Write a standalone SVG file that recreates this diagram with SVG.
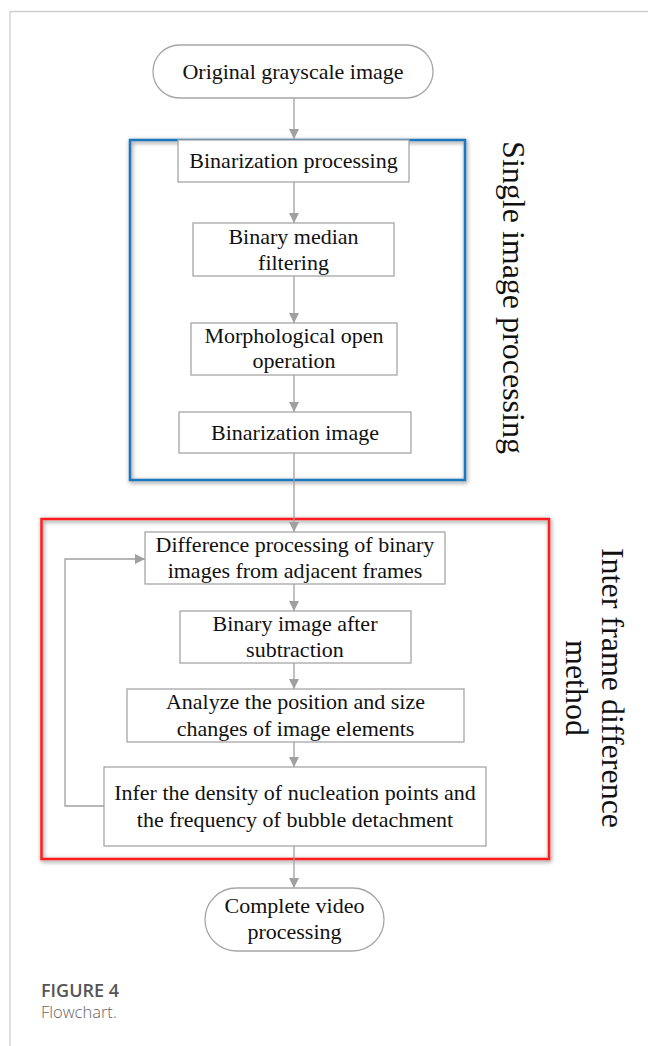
<svg xmlns="http://www.w3.org/2000/svg" width="648" height="1046" viewBox="0 0 648 1046">
<style>
.box{fill:#fff;stroke:#a6a6a6;stroke-width:1.3}
.t{font-family:"Liberation Serif","Times New Roman",serif;font-size:22px;fill:#111;text-anchor:middle}
.vt{font-family:"Liberation Serif","Times New Roman",serif;font-size:32px;fill:#111;text-anchor:middle}
.c{fill:none;stroke:#a0a0a0;stroke-width:1.3}
.frame{fill:none;stroke:#cfcfcf;stroke-width:1.3}
</style>
<defs>
<marker id="ah" viewBox="0 0 10 10" refX="10" refY="5" markerWidth="10" markerHeight="10" markerUnits="userSpaceOnUse" orient="auto">
<path d="M0,0 L10,5 L0,10 Z" fill="#a0a0a0"/>
</marker>
<filter id="sh" x="-10%" y="-10%" width="120%" height="120%">
<feDropShadow dx="1" dy="1.5" stdDeviation="2" flood-color="#444" flood-opacity="0.7"/>
</filter>
</defs>
<rect width="648" height="1046" fill="#fff"/>
<path class="frame" d="M10,1046 V11.5 H648"/>

<g id="groups">
<rect id="single-group" x="130" y="140" width="335" height="340" fill="none" stroke="#1e78be" stroke-width="2.5" filter="url(#sh)"/>
<rect id="inter-group" x="41.5" y="519" width="507.5" height="340" fill="none" stroke="#ff1e1e" stroke-width="2.5" filter="url(#sh)"/>
</g>

<g id="connectors">
<path class="c" d="M294,98 V139" marker-end="url(#ah)"/>
<path class="c" d="M294,182 V223" marker-end="url(#ah)"/>
<path class="c" d="M294,276 V323" marker-end="url(#ah)"/>
<path class="c" d="M294,375 V412" marker-end="url(#ah)"/>
<path class="c" d="M294,453 V532" marker-end="url(#ah)"/>
<path class="c" d="M294,584 V611" marker-end="url(#ah)"/>
<path class="c" d="M294,663 V689" marker-end="url(#ah)"/>
<path class="c" d="M294,742 V767" marker-end="url(#ah)"/>
<path class="c" d="M294,846 V888" marker-end="url(#ah)"/>
<path class="c" d="M104,806 H65 V559 H145" marker-end="url(#ah)"/>
</g>

<g id="n-start">
<rect class="box" x="153" y="45" width="280" height="53" rx="26.5"/>
<text class="t" x="293" y="79">Original grayscale image</text>
</g>
<g id="n-binproc">
<rect class="box" x="178" y="140" width="231" height="42"/>
<text class="t" x="293.5" y="168">Binarization processing</text>
</g>
<g id="n-median">
<rect class="box" x="193" y="223" width="201" height="53"/>
<text class="t" x="293.5" y="244">Binary median</text>
<text class="t" x="293.5" y="270">filtering</text>
</g>
<g id="n-morph">
<rect class="box" x="191" y="323" width="206" height="52"/>
<text class="t" x="294" y="343">Morphological open</text>
<text class="t" x="294" y="368">operation</text>
</g>
<g id="n-binimg">
<rect class="box" x="179" y="412" width="232" height="41"/>
<text class="t" x="295" y="440">Binarization image</text>
</g>
<g id="n-diff">
<rect class="box" x="145" y="532" width="300" height="52"/>
<text class="t" x="295" y="552">Difference processing of binary</text>
<text class="t" x="295" y="578">images from adjacent frames</text>
</g>
<g id="n-sub">
<rect class="box" x="180" y="611" width="231" height="52"/>
<text class="t" x="295" y="631">Binary image after</text>
<text class="t" x="295" y="657">subtraction</text>
</g>
<g id="n-analyze">
<rect class="box" x="127" y="689" width="337" height="53"/>
<text class="t" x="295.5" y="709">Analyze the position and size</text>
<text class="t" x="295.5" y="736">changes of image elements</text>
</g>
<g id="n-infer">
<rect class="box" x="104" y="767" width="382" height="79"/>
<text class="t" x="295" y="800">Infer the density of nucleation points and</text>
<text class="t" x="295" y="827">the frequency of bubble detachment</text>
</g>
<g id="n-end">
<rect class="box" x="205" y="888" width="179" height="63" rx="31.5"/>
<text class="t" x="294.5" y="913">Complete video</text>
<text class="t" x="294.5" y="939">processing</text>
</g>

<g id="labels">
<text class="vt" transform="translate(503,297.5) rotate(90)">Single image processing</text>
<text class="vt" transform="translate(602,688) rotate(90)">Inter frame difference</text>
<text class="vt" transform="translate(566,688) rotate(90)">method</text>
</g>

<g id="caption">
<text x="41" y="997" font-family="'Open Sans','Noto Sans',sans-serif" font-size="18" font-weight="600" fill="#555">FIGURE 4</text>
<text x="41" y="1018" font-family="'Open Sans','Noto Sans',sans-serif" font-size="16.5" font-weight="300" fill="#666">Flowchart.</text>
</g>
</svg>
